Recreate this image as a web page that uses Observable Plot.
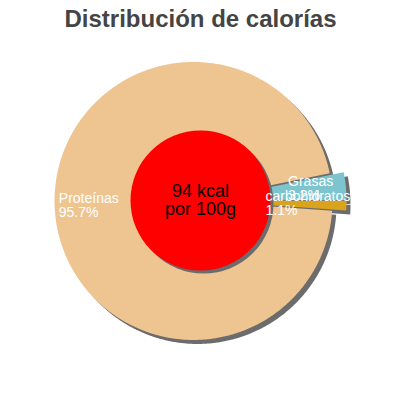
<!DOCTYPE html>
<html><head><meta charset="utf-8">
<script src="https://cdn.jsdelivr.net/npm/d3@7"></script>
<script src="https://cdn.jsdelivr.net/npm/@observablehq/plot@0.6"></script>
<style>body{margin:0;background:#fff;}</style>
</head><body><div id="chart"></div>
<script>
const title = "Distribución de calorías";
const categories = ["Proteínas", "Grasas", "carbohidratos"];
const percents = [95.7, 3.2, 1.1];
const colors = ["#EEC591", "#7CC5CF", "#D9A31E"];
const energyKcal = 94;
const energyLines = ["94 kcal", "por 100g"];

// layout constants
const R = 139, explode = 7, holeR = 70, shadowPie = 4, shadowHole = 3;
const startDeg = 94;
const labelRadius = [142, 88, 65];
const labelDy = [-4, -3, 1];
const rad = Math.PI / 180;

const total = d3.sum(percents);
let acc = startDeg;
const slices = categories.map((c, i) => {
  const a0 = acc, a1 = acc + percents[i] / total * 360; acc = a1;
  return {cat: c, i, a0, a1, mid: (a0 + a1) / 2, pct: percents[i]};
});
const pts = [];
for (const s of slices) {
  const ox = explode * Math.sin(s.mid * rad), oy = explode * Math.cos(s.mid * rad);
  pts.push({cat: s.cat, x: ox, y: oy});
  const n = Math.max(2, Math.ceil((s.a1 - s.a0) / 0.5));
  for (let k = 0; k <= n; k++) {
    const a = (s.a0 + (s.a1 - s.a0) * k / n) * rad;
    pts.push({cat: s.cat, x: ox + R * Math.sin(a), y: oy + R * Math.cos(a)});
  }
}

const chart = Plot.plot({
  width: 400, height: 400, margin: 0,
  x: {domain: [-200, 200], axis: null},
  y: {domain: [-200, 200], axis: null},
  color: {domain: categories, range: colors},
  style: {background: "#fff", fontFamily: "'Liberation Sans', Arial, sans-serif"},
  marks: [
    Plot.line(pts, {x: "x", y: "y", z: "cat", fill: "#6c6c6c", stroke: "none", curve: "linear-closed", dx: shadowPie, dy: shadowPie}),
    Plot.line(pts, {x: "x", y: "y", z: "cat", fill: "cat", stroke: "none", curve: "linear-closed"}),
    Plot.dot([energyKcal], {x: () => 0, y: () => 0, r: holeR, fill: "#6c6c6c", stroke: "none", dx: shadowHole, dy: shadowHole}),
    Plot.dot([energyKcal], {x: () => 0, y: () => 0, r: holeR, fill: "#FF0000", stroke: "none"}),
    Plot.text([energyLines.join("\n")], {x: () => 0, y: () => 0, text: d => d, fontSize: 18, fill: "#000", lineAnchor: "middle"}),
    Plot.text(slices, {
      x: s => labelRadius[s.i] * Math.sin(s.mid * rad),
      y: s => labelRadius[s.i] * Math.cos(s.mid * rad) - labelDy[s.i],
      text: s => `${s.cat}\n${s.pct.toFixed(1)}%`,
      textAnchor: "start", lineAnchor: "middle", fill: "#fff", fontSize: 14, lineHeight: 0.95
    }),
    Plot.text([title], {frameAnchor: "top", text: d => d, fontSize: 24, fontWeight: "bold", fill: "#444", dy: 9})
  ]
});
document.getElementById("chart").appendChild(chart);
</script>
</body></html>
